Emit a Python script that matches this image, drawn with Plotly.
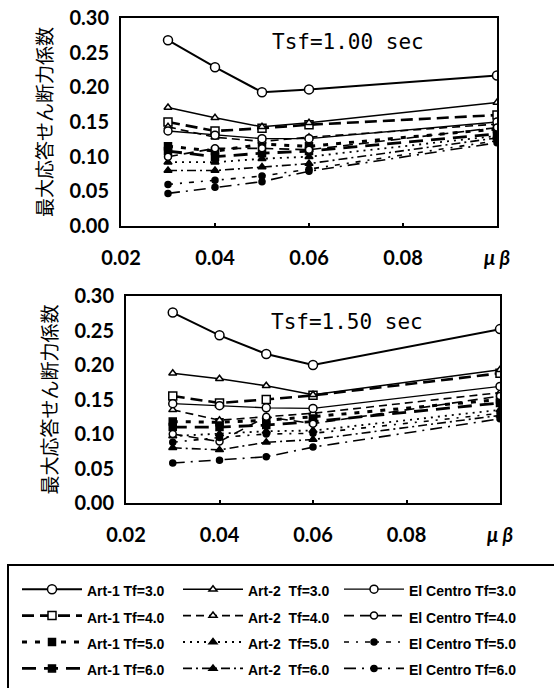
import plotly.graph_objects as go

W, H = 554, 688

# x values (mu*beta)
mu_beta = [0.03, 0.04, 0.05, 0.06, 0.10]

# ---- Tsf = 1.00 sec ----
top_art1_tf3 = [0.268, 0.229, 0.193, 0.197, 0.217]
top_art1_tf4 = [0.150, 0.137, 0.141, 0.146, 0.160]
top_art1_tf5 = [0.115, 0.108, 0.118, 0.115, 0.140]
top_art1_tf6 = [0.108, 0.100, 0.105, 0.108, 0.133]
top_art2_tf3 = [0.171, 0.156, 0.143, 0.149, 0.178]
top_art2_tf4 = [0.143, 0.128, 0.122, 0.128, 0.147]
top_art2_tf5 = [0.092, 0.092, 0.097, 0.100, 0.130]
top_art2_tf6 = [0.080, 0.080, 0.085, 0.090, 0.127]
top_elc_tf3 = [0.137, 0.131, 0.126, 0.126, 0.150]
top_elc_tf4 = [0.100, 0.112, 0.112, 0.110, 0.142]
top_elc_tf5 = [0.060, 0.066, 0.072, 0.082, 0.123]
top_elc_tf6 = [0.047, 0.056, 0.064, 0.079, 0.120]

# ---- Tsf = 1.50 sec ----
bot_art1_tf3 = [0.276, 0.243, 0.216, 0.200, 0.252]
bot_art1_tf4 = [0.155, 0.145, 0.150, 0.156, 0.188]
bot_art1_tf5 = [0.118, 0.117, 0.120, 0.125, 0.150]
bot_art1_tf6 = [0.110, 0.110, 0.113, 0.118, 0.145]
bot_art2_tf3 = [0.188, 0.180, 0.170, 0.157, 0.193]
bot_art2_tf4 = [0.135, 0.120, 0.125, 0.130, 0.160]
bot_art2_tf5 = [0.097, 0.100, 0.104, 0.105, 0.135]
bot_art2_tf6 = [0.080, 0.077, 0.088, 0.092, 0.127]
bot_elc_tf3 = [0.144, 0.141, 0.138, 0.137, 0.169]
bot_elc_tf4 = [0.100, 0.089, 0.125, 0.115, 0.155]
bot_elc_tf5 = [0.088, 0.095, 0.100, 0.101, 0.130]
bot_elc_tf6 = [0.058, 0.062, 0.067, 0.081, 0.122]

x_ticks = [0.02, 0.04, 0.06, 0.08, 0.10]
x_ticktext = ["0.02", "0.04", "0.06", "0.08", "<i>\u03bc \u03b2</i>"]
y_ticks = [0.00, 0.05, 0.10, 0.15, 0.20, 0.25, 0.30]
y_ticktext = ["0.00", "0.05", "0.10", "0.15", "0.20", "0.25", "0.30"]
panel_labels = ["Tsf=1.00 sec", "Tsf=1.50 sec"]
y_title = "最大応答せん断力係数"

# series meta: (group, label, top data, bottom data)
series = [
    ("Art-1", "Art-1 Tf=3.0", top_art1_tf3, bot_art1_tf3),
    ("Art-1", "Art-1 Tf=4.0", top_art1_tf4, bot_art1_tf4),
    ("Art-1", "Art-1 Tf=5.0", top_art1_tf5, bot_art1_tf5),
    ("Art-1", "Art-1 Tf=6.0", top_art1_tf6, bot_art1_tf6),
    ("Art-2", "Art-2  Tf=3.0", top_art2_tf3, bot_art2_tf3),
    ("Art-2", "Art-2  Tf=4.0", top_art2_tf4, bot_art2_tf4),
    ("Art-2", "Art-2  Tf=5.0", top_art2_tf5, bot_art2_tf5),
    ("Art-2", "Art-2  Tf=6.0", top_art2_tf6, bot_art2_tf6),
    ("ElC", "El Centro Tf=3.0", top_elc_tf3, bot_elc_tf3),
    ("ElC", "El Centro Tf=4.0", top_elc_tf4, bot_elc_tf4),
    ("ElC", "El Centro Tf=5.0", top_elc_tf5, bot_elc_tf5),
    ("ElC", "El Centro Tf=6.0", top_elc_tf6, bot_elc_tf6),
]

# styles: (dash, width, symbol, fill, size)
styles = {
    "Art-1 Tf=3.0": ("solid", 2.0, "circle", "white", 9),
    "Art-1 Tf=4.0": ("12px,6px", 2.6, "square", "white", 8),
    "Art-1 Tf=5.0": ("5px,8px", 3.0, "square", "black", 7),
    "Art-1 Tf=6.0": ("14px,8px", 2.8, "square", "black", 7),
    "Art-2  Tf=3.0": ("solid", 1.5, "triangle-up", "white", 7),
    "Art-2  Tf=4.0": ("8px,5px", 1.6, "triangle-up", "white", 7),
    "Art-2  Tf=5.0": ("2px,5px", 1.8, "triangle-up", "black", 7),
    "Art-2  Tf=6.0": ("9px,4px,2px,4px", 1.6, "triangle-up", "black", 7),
    "El Centro Tf=3.0": ("solid", 1.3, "circle", "white", 8),
    "El Centro Tf=4.0": ("10px,6px", 1.6, "circle", "white", 7),
    "El Centro Tf=5.0": ("5px,7px,2px,7px", 1.6, "circle", "black", 6),
    "El Centro Tf=6.0": ("12px,6px,2px,6px", 1.6, "circle", "black", 6),
}

fig = go.Figure()
for panel, (xa, ya) in enumerate([("x", "y"), ("x2", "y2")]):
    for group, label, top_d, bot_d in series:
        dash, lw, sym, fill, msz = styles[label]
        fig.add_trace(go.Scatter(
            x=mu_beta, y=top_d if panel == 0 else bot_d,
            xaxis=xa, yaxis=ya,
            mode="lines+markers",
            name='<span style="font-size:14px"><b>' + label + '</b></span>',
            legendgroup=group,
            showlegend=(panel == 0),
            legendwidth=86 if group != "ElC" else 112,
            line=dict(color="black", width=lw, dash=dash),
            marker=dict(symbol=sym, size=msz, color=fill,
                        line=dict(color="black", width=1.5)),
            hoverinfo="skip",
        ))

axis_font = dict(family="Lato", size=20, color="black", weight="bold")

def xaxis(domain, anchor):
    return dict(domain=domain, anchor=anchor, range=[0.02, 0.10], automargin=False,
                tickmode="array", tickvals=x_ticks, ticktext=x_ticktext, tickfont=axis_font,
                ticks="inside", ticklen=3, tickwidth=1.5, tickcolor="black",
                ticklabelstandoff=13,
                showline=True, linecolor="black", linewidth=2, mirror=True,
                showgrid=False, zeroline=False)

def yaxis(domain, anchor):
    return dict(domain=domain, anchor=anchor, range=[0, 0.30], automargin=False,
                tickmode="array", tickvals=y_ticks, ticktext=y_ticktext, tickfont=axis_font,
                ticks="", ticklabelstandoff=6,
                title=dict(text=y_title, standoff=12,
                           font=dict(family="Noto Sans CJK JP", size=19, color="black")),
                showline=True, linecolor="black", linewidth=2, mirror=True,
                showgrid=False, zeroline=False)

fig.update_layout(
    template="none",
    width=W, height=H,
    margin=dict(l=0, r=0, t=0, b=0, autoexpand=False),
    paper_bgcolor="white", plot_bgcolor="white",
    xaxis=xaxis([121 / W, 497 / W], "y"),
    yaxis=yaxis([1 - 226 / H, 1 - 18 / H], "x"),
    xaxis2=xaxis([126 / W, 500 / W], "y2"),
    yaxis2=yaxis([1 - 503 / H, 1 - 296 / H], "x2"),
    legend=dict(orientation="h", x=17 / W, xanchor="left", y=1 - 571 / H, yanchor="top",
                traceorder="grouped", tracegroupgap=0,
                borderwidth=0, bgcolor="rgba(0,0,0,0)",
                itemwidth=60, entrywidthmode="pixels",
                font=dict(family="Liberation Sans", size=18, color="black"),
                itemsizing="trace"),
    shapes=[
        dict(type="rect", xref="paper", yref="paper",
             x0=8 / W, x1=1.02, y0=-0.02, y1=1 - 565 / H,
             line=dict(color="black", width=2), fillcolor="rgba(0,0,0,0)", layer="below"),
    ],
    annotations=[
        dict(text=panel_labels[0], xref="paper", yref="paper", x=348 / W, y=1 - 42 / H,
             xanchor="center", yanchor="middle", showarrow=False,
             font=dict(family="DejaVu Sans Mono", size=21, color="black")),
        dict(text=panel_labels[1], xref="paper", yref="paper", x=347 / W, y=1 - 322 / H,
             xanchor="center", yanchor="middle", showarrow=False,
             font=dict(family="DejaVu Sans Mono", size=21, color="black")),
    ],
)

fig.write_html("out.html")
